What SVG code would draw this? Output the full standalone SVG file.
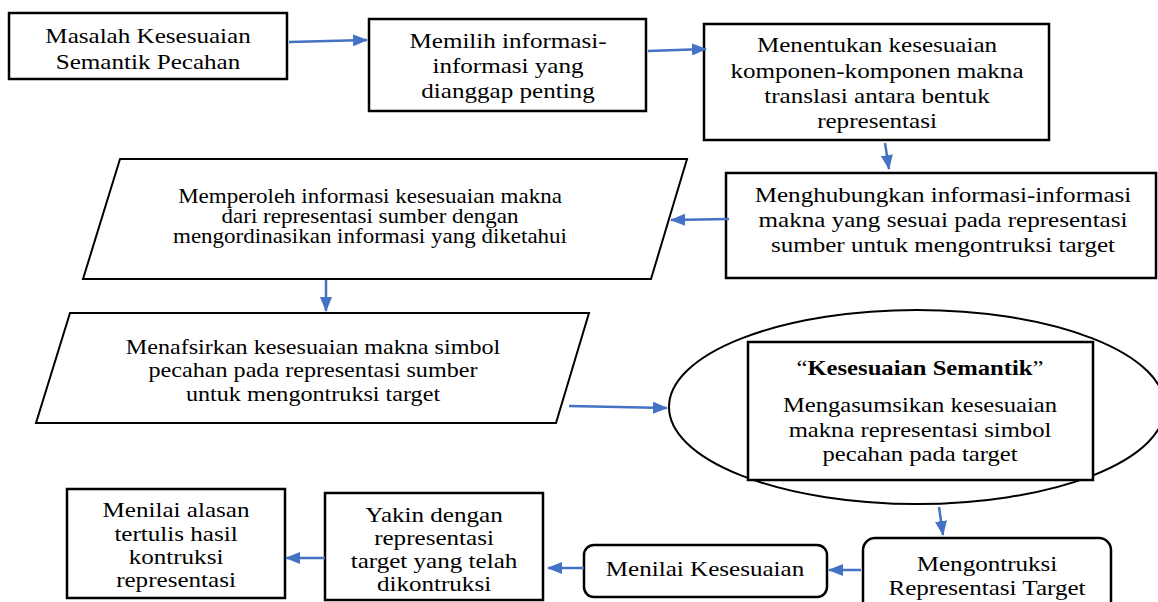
<svg xmlns="http://www.w3.org/2000/svg" width="1158" height="602" viewBox="0 0 1158 602">
<style>
.box{fill:#fff;stroke:#000;stroke-width:2.5}
.thin{fill:#fff;stroke:#000;stroke-width:2}
.t{font-family:"Liberation Serif","Times New Roman",serif;font-size:22px;fill:#000;text-anchor:middle}
.ts{font-family:"Liberation Serif","Times New Roman",serif;font-size:20px;fill:#000;text-anchor:middle}
.c{stroke:#4472C4;stroke-width:2.5;fill:none;marker-end:url(#ah)}
</style>
<defs>
<marker id="ah" markerWidth="15" markerHeight="12" refX="14" refY="6" orient="auto" markerUnits="userSpaceOnUse">
<path d="M0,0 L15,6 L0,12 z" fill="#4472C4"/>
</marker>
</defs>
<rect width="1158" height="602" fill="#fff"/>

<g id="n1">
<rect class="box" x="9" y="13" width="278" height="66"/>
<g transform="translate(148 0) scale(1.14 1)"><text class="t"><tspan x="0" y="43">Masalah Kesesuaian</tspan><tspan x="0" y="69">Semantik Pecahan</tspan></text></g>
</g>

<g id="n2">
<rect class="box" x="369" y="19" width="277" height="92"/>
<g transform="translate(508 0) scale(1.14 1)"><text class="t"><tspan x="0" y="48">Memilih informasi-</tspan><tspan x="0" y="73">informasi yang</tspan><tspan x="0" y="98">dianggap penting</tspan></text></g>
</g>

<g id="n3">
<rect class="box" x="704" y="24" width="345" height="116"/>
<g transform="translate(877 0) scale(1.14 1)"><text class="t"><tspan x="0" y="52">Menentukan kesesuaian</tspan><tspan x="0" y="78">komponen-komponen makna</tspan><tspan x="0" y="103">translasi antara bentuk</tspan><tspan x="0" y="128">representasi</tspan></text></g>
</g>

<g id="n4">
<rect class="box" x="726" y="173" width="430" height="105"/>
<g transform="translate(943 0) scale(1.14 1)"><text class="t"><tspan x="0" y="202">Menghubungkan informasi-informasi</tspan><tspan x="0" y="227">makna yang sesuai pada representasi</tspan><tspan x="0" y="252">sumber untuk mengontruksi target</tspan></text></g>
</g>

<g id="n5">
<polygon class="thin" points="120,159 687,159 651,279 83,279"/>
<g transform="translate(370 0) scale(1.15 1)"><text class="ts"><tspan x="0" y="203">Memperoleh informasi kesesuaian makna</tspan><tspan x="0" y="223">dari representasi sumber dengan</tspan><tspan x="0" y="243">mengordinasikan informasi yang diketahui</tspan></text></g>
</g>

<g id="n6">
<polygon class="thin" points="70,313 589,313 556,423 36,423"/>
<g transform="translate(313 0) scale(1.15 1)"><text class="ts" style="font-size:21px"><tspan x="0" y="354">Menafsirkan kesesuaian makna simbol</tspan><tspan x="0" y="377">pecahan pada representasi sumber</tspan><tspan x="0" y="401">untuk mengontruksi target</tspan></text></g>
</g>

<g id="n7">
<ellipse class="thin" cx="917" cy="407" rx="248" ry="97"/>
<rect class="box" x="748" y="342" width="345" height="138"/>
<g transform="translate(920 0) scale(1.12 1)"><text class="t"><tspan x="0" y="375">“<tspan font-weight="bold">Kesesuaian Semantik</tspan>”</tspan><tspan x="0" y="412">Mengasumsikan kesesuaian</tspan><tspan x="0" y="437">makna representasi simbol</tspan><tspan x="0" y="461">pecahan pada target</tspan></text></g>
</g>

<g id="n8">
<rect class="box" x="863" y="538" width="248" height="80" rx="12" ry="12"/>
<g transform="translate(987 0) scale(1.14 1)"><text class="t"><tspan x="0" y="571">Mengontruksi</tspan><tspan x="0" y="595">Representasi Target</tspan></text></g>
</g>

<g id="n9">
<rect class="box" x="584" y="545" width="243" height="52" rx="10" ry="10"/>
<g transform="translate(705 0) scale(1.14 1)"><text class="t"><tspan x="0" y="576">Menilai Kesesuaian</tspan></text></g>
</g>

<g id="n10">
<rect class="box" x="325" y="493" width="218" height="107"/>
<g transform="translate(434 0) scale(1.14 1)"><text class="t"><tspan x="0" y="522">Yakin dengan</tspan><tspan x="0" y="545">representasi</tspan><tspan x="0" y="568">target yang telah</tspan><tspan x="0" y="591">dikontruksi</tspan></text></g>
</g>

<g id="n11">
<rect class="box" x="67" y="489" width="218" height="109"/>
<g transform="translate(176 0) scale(1.14 1)"><text class="t"><tspan x="0" y="517">Menilai alasan</tspan><tspan x="0" y="541">tertulis hasil</tspan><tspan x="0" y="564">kontruksi</tspan><tspan x="0" y="587">representasi</tspan></text></g>
</g>

<g id="connectors">
<line class="c" x1="289" y1="42" x2="367" y2="40"/>
<line class="c" x1="648" y1="51" x2="706" y2="49"/>
<line class="c" x1="885" y1="143" x2="889" y2="169"/>
<line class="c" x1="729" y1="219" x2="671" y2="220"/>
<line class="c" x1="326" y1="280" x2="326" y2="311"/>
<line class="c" x1="569" y1="406" x2="667" y2="408"/>
<line class="c" x1="939" y1="507" x2="943" y2="535"/>
<line class="c" x1="861" y1="570" x2="829" y2="570"/>
<line class="c" x1="584" y1="568" x2="548" y2="568"/>
<line class="c" x1="325" y1="558" x2="286" y2="558"/>
</g>
</svg>
